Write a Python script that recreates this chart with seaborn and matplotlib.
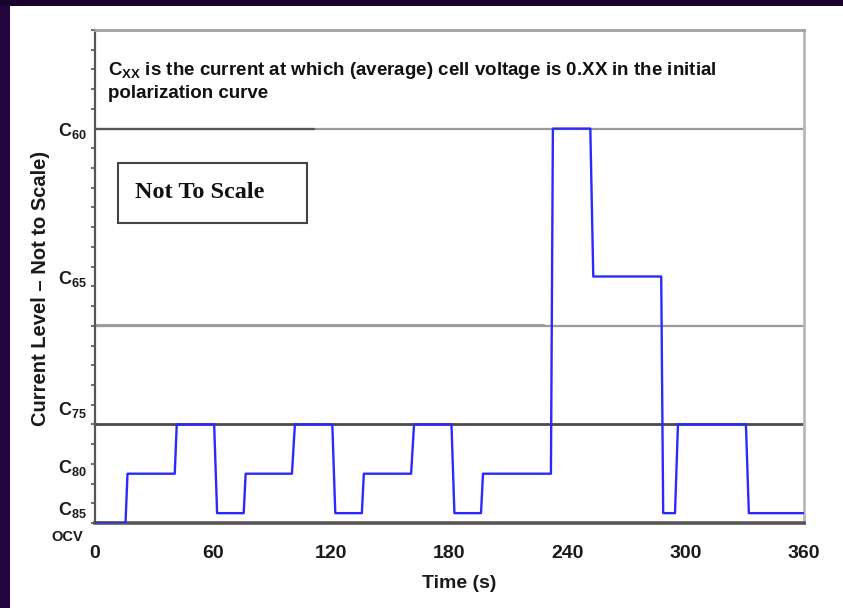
import numpy as np
import pandas as pd
import matplotlib
matplotlib.use("Agg")
import matplotlib.pyplot as plt
import seaborn as sns
from matplotlib.patches import Rectangle
import matplotlib.transforms as mtransforms

# ---- data (levels are schematic, "not to scale") ----
time_s = [0, 15.5, 16.5, 40.5, 41.5, 60.5, 62, 75.5, 76.5, 100, 101.5, 120.5, 122,
          135.5, 136.5, 160.5, 162, 181, 182.5, 196, 197, 231.5, 232.5, 251.5, 253,
          287.5, 288.5, 294.5, 296, 330.5, 332, 360]
level = [0, 0, 10, 10, 20, 20, 2, 2, 10, 10, 20, 20, 2,
         2, 10, 10, 20, 20, 2, 2, 10, 10, 80, 80, 50,
         50, 2, 2, 20, 20, 2, 2]

ytick_pos = [80, 50, 23.5, 11.7, 3.2]
ytick_sub = ["60", "65", "75", "80", "85"]
ocv_label = "OCV"
xticks = [0, 60, 120, 180, 240, 300, 360]
ref_lines = [80, 40, 20]

sns.set_theme(style="white")
plt.rcParams["font.family"] = ["Liberation Sans", "DejaVu Sans"]
plt.rcParams["mathtext.fontset"] = "custom"
plt.rcParams["mathtext.rm"] = "Liberation Sans:bold"
plt.rcParams["mathtext.bf"] = "Liberation Sans:bold"
plt.rcParams["mathtext.default"] = "bf"

W, H = 843, 608
fig = plt.figure(figsize=(W / 100, H / 100), dpi=100, facecolor="white")

# dark presentation frame (left and top strips)
fig.patches.append(Rectangle((0, 0), 10 / W, 1, transform=fig.transFigure,
                             facecolor="#22043f", edgecolor="none", zorder=0))
fig.patches.append(Rectangle((0, 1 - 6 / H), 1, 6 / H, transform=fig.transFigure,
                             facecolor="#1a0230", edgecolor="none", zorder=0))

L, R, T, B = 95, 804, 30, 523
ax = fig.add_axes([L / W, 1 - B / H, (R - L) / W, (B - T) / H])
ax.set_facecolor("white")

# reference lines
ax.axhline(ref_lines[0], color="#9a9a9a", lw=1.6, zorder=1)
ax.plot([0, 111], [ref_lines[0], ref_lines[0]], color="#555555", lw=1.6, zorder=1.1)
ax.axhline(ref_lines[1], color="#9a9a9a", lw=1.6, zorder=1)
ax.plot([0, 228], [ref_lines[1] + 0.25, ref_lines[1] + 0.25], color="#9a9a9a", lw=1.3, zorder=1.1)
ax.axhline(ref_lines[2], color="#4a4a4a", lw=2.0, zorder=1)

df = pd.DataFrame({"Time (s)": time_s, "Level": level})
sns.lineplot(data=df, x="Time (s)", y="Level", ax=ax, estimator=None, sort=False,
             color="#2a2aff", lw=1.7, zorder=3)

# spines
for side, col, lw in [("left", "#555555", 1.6), ("bottom", "#555555", 2.6),
                      ("top", "#a0a0a0", 2.0), ("right", "#b8b8b8", 2.0)]:
    ax.spines[side].set_visible(True)
    ax.spines[side].set_color(col)
    ax.spines[side].set_linewidth(lw)

ax.set_xticks(xticks)
ax.set_xticklabels([str(v) for v in xticks], fontsize=14, fontweight="bold", color="#1a1a1a")
ax.tick_params(axis="x", length=0, pad=16)

labels = ["C$_{%s}$" % s for s in ytick_sub]
ax.set_yticks(ytick_pos)
ax.set_yticklabels(labels, fontsize=13, fontweight="bold", color="#1a1a1a")
ax.tick_params(axis="y", which="major", length=0, pad=6)
ax.set_yticks(np.arange(0, 101, 4), minor=True)
ax.tick_params(axis="y", which="minor", length=3, width=1.2, color="#555555", left=True)

ax.set_xlim(0, 360)
ax.set_ylim(0, 100)

ax.text(-12 / (R - L), -2.9, ocv_label, transform=mtransforms.blended_transform_factory(ax.transAxes, ax.transData),
        fontsize=10.5, fontweight="bold", color="#1a1a1a", ha="right", va="center", clip_on=False)

ax.set_xlabel("Time (s)", fontsize=14, fontweight="bold", color="#1a1a1a")
ax.xaxis.label.set_va("center")
ax.xaxis.set_label_coords((459 - L) / (R - L), (B - 584) / (B - T))
ax.set_ylabel("Current Level – Not to Scale)", fontsize=14.5, fontweight="bold", color="#1a1a1a")
ax.yaxis.label.set_va("center")
ax.yaxis.set_label_coords((40 - L) / (R - L), (B - 288) / (B - T))

ax.text((108 - L) / (R - L), (B - 60) / (B - T),
        "C$_{XX}$ is the current at which (average) cell voltage is 0.XX in the initial\npolarization curve",
        transform=ax.transAxes, fontsize=13.5, fontweight="bold", color="#111111",
        va="top", ha="left", linespacing=1.3)

# "Not To Scale" box
ax.add_patch(Rectangle(((118 - L) / (R - L), (B - 223) / (B - T)), (307 - 118) / (R - L), 60 / (B - T),
                       transform=ax.transAxes, facecolor="white", edgecolor="#444444", lw=1.5, zorder=4))
ax.text((135 - L) / (R - L), (B - 192) / (B - T), "Not To Scale", transform=ax.transAxes, fontsize=17.5,
        fontweight="bold", family="Liberation Serif", color="#111111", va="center", ha="left", zorder=5)

fig.savefig("out.png", dpi=100, facecolor=fig.get_facecolor())
